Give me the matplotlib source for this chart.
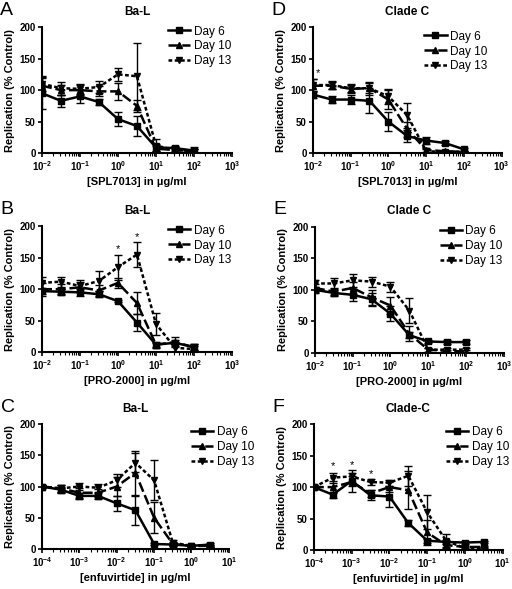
import matplotlib
matplotlib.use('Agg')
import matplotlib.pyplot as plt
import numpy as np

plt.rcParams['font.family'] = ['Liberation Sans', 'DejaVu Sans']
plt.rcParams['mathtext.fontset'] = 'custom'
plt.rcParams['mathtext.rm'] = 'Liberation Sans:bold'
plt.rcParams['mathtext.it'] = 'Liberation Sans:bold'
plt.rcParams['mathtext.bf'] = 'Liberation Sans:bold'

# concentrations (ug/ml)
conc_std = [0.01, 0.0316, 0.1, 0.316, 1, 3.16, 10, 31.6, 100]
conc_enf = [1e-4, 3.16e-4, 1e-3, 3.16e-3, 1e-2, 3.16e-2, 0.1, 0.316, 1, 3.16]

# Panel A: Ba-L, SPL7013
a_d6 = [95, 83, 90, 81, 54, 43, 9, 8, 4]
a_d6_err = [25, 10, 10, 5, 11, 16, 5, 4, 6]
a_d10 = [107, 100, 100, 98, 98, 75, 7, 5, 3]
a_d10_err = [14, 8, 8, 8, 13, 10, 4, 3, 3]
a_d13 = [110, 103, 102, 105, 125, 122, 12, 5, 3]
a_d13_err = [12, 10, 8, 10, 10, 53, 10, 4, 3]

# Panel D: Clade C, SPL7013
d_d6 = [93, 85, 85, 83, 50, 27, 20, 16, 6]
d_d6_err = [5, 6, 7, 20, 15, 10, 5, 3, 2]
d_d10 = [107, 107, 102, 103, 85, 38, 5, 3, 2]
d_d10_err = [10, 6, 6, 8, 15, 12, 3, 2, 2]
d_d13 = [108, 108, 103, 103, 90, 60, 3, 2, 2]
d_d13_err = [10, 7, 6, 10, 12, 20, 3, 2, 2]

# Panel B: Ba-L, PRO-2000
b_d6 = [97, 96, 95, 92, 81, 47, 12, 15, 8]
b_d6_err = [5, 5, 5, 5, 2, 13, 3, 5, 5]
b_d10 = [100, 100, 103, 98, 110, 78, 12, 16, 8]
b_d10_err = [10, 8, 8, 8, 8, 17, 5, 8, 5]
b_d13 = [110, 112, 105, 113, 135, 155, 45, 7, 5]
b_d13_err = [10, 8, 10, 16, 20, 20, 18, 8, 5]

# Panel E: Clade C, PRO-2000
e_d6 = [100, 95, 92, 85, 62, 28, 18, 17, 17]
e_d6_err = [5, 5, 9, 10, 12, 5, 3, 3, 3]
e_d10 = [103, 97, 103, 88, 75, 30, 5, 3, 2]
e_d10_err = [6, 6, 10, 12, 14, 12, 3, 2, 2]
e_d13 = [110, 110, 115, 113, 105, 67, 5, 5, 5]
e_d13_err = [5, 8, 10, 8, 8, 20, 3, 3, 3]

# Panel C: Ba-L, enfuvirtide
c_d6 = [100, 95, 85, 85, 73, 62, 8, 7, 5, 7]
c_d6_err = [3, 5, 5, 5, 12, 23, 2, 2, 2, 2]
c_d10 = [100, 97, 90, 90, 100, 122, 50, 8, 5, 5]
c_d10_err = [3, 5, 8, 6, 15, 35, 25, 3, 2, 2]
c_d13 = [100, 97, 100, 98, 110, 138, 110, 10, 5, 5]
c_d13_err = [3, 5, 6, 6, 10, 15, 32, 4, 2, 2]

# Panel F: Clade-C, enfuvirtide
f_d6 = [100, 88, 110, 87, 85, 43, 15, 13, 12, 13]
f_d6_err = [3, 5, 8, 8, 17, 5, 3, 3, 2, 2]
f_d10 = [100, 100, 108, 90, 100, 95, 28, 8, 5, 5]
f_d10_err = [3, 10, 15, 6, 8, 30, 20, 5, 2, 2]
f_d13 = [100, 115, 117, 108, 107, 118, 60, 15, 3, 3]
f_d13_err = [3, 8, 10, 5, 5, 16, 27, 10, 2, 2]

labels = ['Day 6', 'Day 10', 'Day 13']
styles = [('-', 's'), ((0, (4, 1.5)), '^'), ((0, (1.5, 1)), 'v')]

fig = plt.figure(figsize=(5.12, 5.89), dpi=100)


def panel(rect, x, series, title, letter, xlabel, xlim, stars=None, leg=(1.02, 1.05)):
    ax = fig.add_axes(rect)
    for (y, err), lab, (ls, mk) in zip(series, labels, styles):
        ax.errorbar(x, y, yerr=err, fmt='none', ecolor='black', elinewidth=1,
                    capsize=3, capthick=1)
        ax.plot(x, y, color='black', linestyle=ls, linewidth=1.8,
                marker=mk, markersize=4, label=lab)
    ax.set_xscale('log')
    ax.set_xlim(xlim)
    ax.set_ylim(0, 200)
    ax.set_yticks([0, 50, 100, 150, 200])
    ax.spines['top'].set_visible(False)
    ax.spines['right'].set_visible(False)
    ax.spines['left'].set_linewidth(1.5)
    ax.spines['bottom'].set_linewidth(1.5)
    ax.tick_params(which='major', direction='out', length=3, width=1.2,
                   labelsize=7, pad=1.5)
    ax.tick_params(which='minor', direction='out', length=2, width=0.8)
    for t in ax.get_xticklabels() + ax.get_yticklabels():
        t.set_fontweight('bold')
    ax.set_ylabel('Replication (% Control)', fontsize=8, fontweight='bold', labelpad=3)
    ax.set_xlabel(xlabel, fontsize=8, fontweight='bold', labelpad=3)
    ax.set_title(title, fontsize=8.5, fontweight='bold', pad=9)
    ax.text(-0.22, 1.135, letter, transform=ax.transAxes, fontsize=14, va='center')
    ax.legend(loc='upper right', bbox_to_anchor=leg, frameon=False,
              fontsize=8.5, handlelength=1.9, labelspacing=0.25, borderpad=0.2,
              handletextpad=0.3, borderaxespad=0.2)
    if stars:
        for sx, sy in stars:
            ax.text(sx, sy, '*', ha='center', va='center', fontsize=8)
    return ax


panel([0.082, 0.740, 0.371, 0.214], conc_std,
      [(a_d6, a_d6_err), (a_d10, a_d10_err), (a_d13, a_d13_err)],
      'Ba-L', 'A', '[SPL7013] in µg/ml', (0.01, 1000))
panel([0.611, 0.740, 0.369, 0.214], conc_std,
      [(d_d6, d_d6_err), (d_d10, d_d10_err), (d_d13, d_d13_err)],
      'Clade C', 'D', '[SPL7013] in µg/ml', (0.01, 1000), stars=[(0.014, 127)],
      leg=(0.95, 1.01))
panel([0.082, 0.402, 0.371, 0.214], conc_std,
      [(b_d6, b_d6_err), (b_d10, b_d10_err), (b_d13, b_d13_err)],
      'Ba-L', 'B', '[PRO-2000] in µg/ml', (0.01, 1000), stars=[(1, 163), (3.16, 182)])
panel([0.615, 0.401, 0.369, 0.214], conc_std,
      [(e_d6, e_d6_err), (e_d10, e_d10_err), (e_d13, e_d13_err)],
      'Clade C', 'E', '[PRO-2000] in µg/ml', (0.01, 1000))
panel([0.082, 0.068, 0.365, 0.212], conc_enf,
      [(c_d6, c_d6_err), (c_d10, c_d10_err), (c_d13, c_d13_err)],
      'Ba-L', 'C', '[enfuvirtide] in µg/ml', (1e-4, 10), leg=(1.16, 1.02))
panel([0.613, 0.066, 0.369, 0.214], conc_enf,
      [(f_d6, f_d6_err), (f_d10, f_d10_err), (f_d13, f_d13_err)],
      'Clade-C', 'F', '[enfuvirtide] in µg/ml', (1e-4, 10),
      stars=[(3.16e-4, 133), (1e-3, 135), (3.16e-3, 121)], leg=(1.06, 1.02))

fig.savefig('out.png', dpi=100)
